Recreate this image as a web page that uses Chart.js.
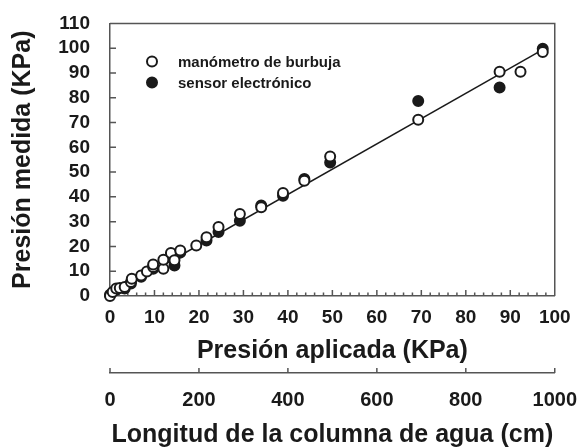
<!DOCTYPE html>
<html>
<head>
<meta charset="utf-8">
<script src="https://cdn.jsdelivr.net/npm/chart.js@4/dist/chart.umd.min.js"></script>
<style>
  html, body { margin: 0; padding: 0; background: #fff; }
  #wrap { width: 584px; height: 448px; }
</style>
</head>
<body>
<div id="wrap"><canvas id="chart" width="584" height="448"></canvas></div>
<script>
// manómetro de burbuja (open circles)
const bubbleX = [0, 0.6, 1.4, 2.2, 3.3, 4.7, 4.9, 7, 8.3, 9.7, 9.7, 12, 12, 13.7, 14.5, 15.8, 19.4, 21.7, 24.4, 29.2, 34, 38.9, 43.7, 49.5, 69.3, 87.6, 92.3, 97.3];
const bubbleY = [0, 1.6, 3, 3.2, 3.6, 5.6, 7, 8.3, 9.9, 11.7, 12.7, 11, 14.6, 17.4, 14.4, 18.4, 20.4, 23.7, 27.8, 33.1, 35.8, 41.6, 46.5, 56.3, 71.1, 90.5, 90.5, 98.5];

// sensor electrónico (filled circles)
const sensorX = [0, 1.4, 3.3, 4.7, 7, 9.7, 14.5, 15.8, 21.7, 24.4, 29.2, 34, 38.9, 43.7, 49.5, 69.3, 87.6, 97.3];
const sensorY = [0.5, 2.5, 3, 5, 7.8, 11, 12.3, 17.5, 22.4, 25.8, 30.4, 36.5, 40.5, 47.2, 53.9, 78.7, 84.1, 99.8];

// fitted line
const fitX = [0, 97.3];
const fitY = [0.2, 99.4];

const seriesLabels = ['manómetro de burbuja', 'sensor electrónico'];
const xTitle = 'Presión aplicada (KPa)';
const yTitle = 'Presión medida (KPa)';
const x2Title = 'Longitud de la columna de agua (cm)';

const FONT = '"Liberation Sans", Arial, sans-serif';
const INK = '#1a1a1a';
const AXIS = '#555';

function pts(xs, ys) {
    return xs.map((x, i) => ({ x, y: ys[i] }));
}

const plain = v => String(v);

const frameAndTicks = {
    id: 'frameAndTicks',
    beforeDatasetsDraw(chart) {
        const { ctx, chartArea: a, scales } = chart;
        ctx.save();
        ctx.strokeStyle = AXIS;
        ctx.lineWidth = 1.5;
        ctx.beginPath();
        // box top + right
        ctx.moveTo(a.left, a.top);
        ctx.lineTo(a.right, a.top);
        ctx.lineTo(a.right, a.bottom);
        // inward x ticks, minor every 2
        for (let v = 0; v <= 100; v += 2) {
            const px = scales.x.getPixelForValue(v);
            const len = v % 10 === 0 ? 6 : 3.5;
            ctx.moveTo(px, a.bottom);
            ctx.lineTo(px, a.bottom - len);
        }
        // inward y ticks
        scales.y.ticks.forEach(t => {
            const py = scales.y.getPixelForValue(t.value);
            ctx.moveTo(a.left, py);
            ctx.lineTo(a.left + 6, py);
        });
        // secondary axis ticks point up
        const s2 = scales.x2;
        s2.ticks.forEach(t => {
            const px = s2.getPixelForValue(t.value);
            ctx.moveTo(px, s2.top);
            ctx.lineTo(px, s2.top - 5);
        });
        ctx.stroke();
        ctx.restore();
    },
    afterDraw(chart) {
        const { ctx, chartArea: a } = chart;
        const mx = a.left + 42;
        const tx = a.left + 68;
        const rows = [a.top + 38, a.top + 59];
        ctx.save();
        ctx.font = 'bold 15px ' + FONT;
        ctx.textBaseline = 'middle';
        rows.forEach((ry, i) => {
            ctx.beginPath();
            ctx.arc(mx, ry, 5, 0, Math.PI * 2);
            ctx.lineWidth = 2;
            ctx.strokeStyle = INK;
            ctx.fillStyle = i === 0 ? '#fff' : INK;
            ctx.fill();
            ctx.stroke();
            ctx.fillStyle = INK;
            ctx.fillText(seriesLabels[i], tx, ry + 1);
        });
        ctx.restore();
    }
};

new Chart(document.getElementById('chart'), {
    type: 'scatter',
    data: {
        datasets: [
            {
                label: seriesLabels[0],
                data: pts(bubbleX, bubbleY),
                backgroundColor: '#fff',
                borderColor: INK,
                borderWidth: 2,
                pointRadius: 5,
                order: 0,
                clip: false
            },
            {
                label: seriesLabels[1],
                data: pts(sensorX, sensorY),
                backgroundColor: INK,
                borderColor: INK,
                borderWidth: 2,
                pointRadius: 5,
                order: 1,
                clip: false
            },
            {
                label: 'ajuste',
                data: pts(fitX, fitY),
                showLine: true,
                borderColor: INK,
                borderWidth: 1.5,
                pointRadius: 0,
                order: 2,
                clip: false
            }
        ]
    },
    options: {
        responsive: false,
        animation: false,
        layout: { padding: { top: 21, right: 26, bottom: 0, left: 0 } },
        plugins: {
            legend: { display: false },
            tooltip: { enabled: false }
        },
        scales: {
            x: {
                type: 'linear',
                position: 'bottom',
                weight: 0,
                min: 0,
                max: 100,
                afterFit: s => { s.height = 77; },
                border: { display: true, color: AXIS, width: 1.5 },
                grid: { display: false },
                ticks: {
                    stepSize: 10,
                    autoSkip: false,
                    maxRotation: 0,
                    padding: 2,
                    color: INK,
                    callback: plain,
                    font: { family: FONT, size: 19, weight: 'bold' }
                },
                title: {
                    display: true,
                    text: xTitle,
                    color: INK,
                    padding: { top: 0, bottom: 7 },
                    font: { family: FONT, size: 25, weight: 'bold' }
                }
            },
            x2: {
                type: 'linear',
                axis: 'x',
                position: 'bottom',
                weight: 1,
                min: 0,
                max: 1000,
                afterFit: s => { s.height = 75; },
                border: { display: true, color: AXIS, width: 1.5 },
                grid: { display: false },
                ticks: {
                    stepSize: 200,
                    autoSkip: false,
                    maxRotation: 0,
                    padding: 7,
                    color: INK,
                    callback: plain,
                    font: { family: FONT, size: 20, weight: 'bold' }
                },
                title: {
                    display: true,
                    text: x2Title,
                    color: INK,
                    padding: { top: 0, bottom: 0 },
                    font: { family: FONT, size: 25, weight: 'bold', lineHeight: 1 }
                }
            },
            y: {
                type: 'linear',
                position: 'left',
                min: 0,
                max: 110,
                afterFit: s => { s.width = 110; },
                border: { display: true, color: AXIS, width: 1.5 },
                grid: { display: false },
                ticks: {
                    stepSize: 10,
                    autoSkip: false,
                    padding: 12,
                    color: INK,
                    callback: plain,
                    font: { family: FONT, size: 19, weight: 'bold' }
                },
                title: {
                    display: true,
                    text: yTitle,
                    color: INK,
                    padding: { top: 8, bottom: 0 },
                    font: { family: FONT, size: 25, weight: 'bold' }
                }
            }
        }
    },
    plugins: [frameAndTicks]
});
</script>
</body>
</html>
